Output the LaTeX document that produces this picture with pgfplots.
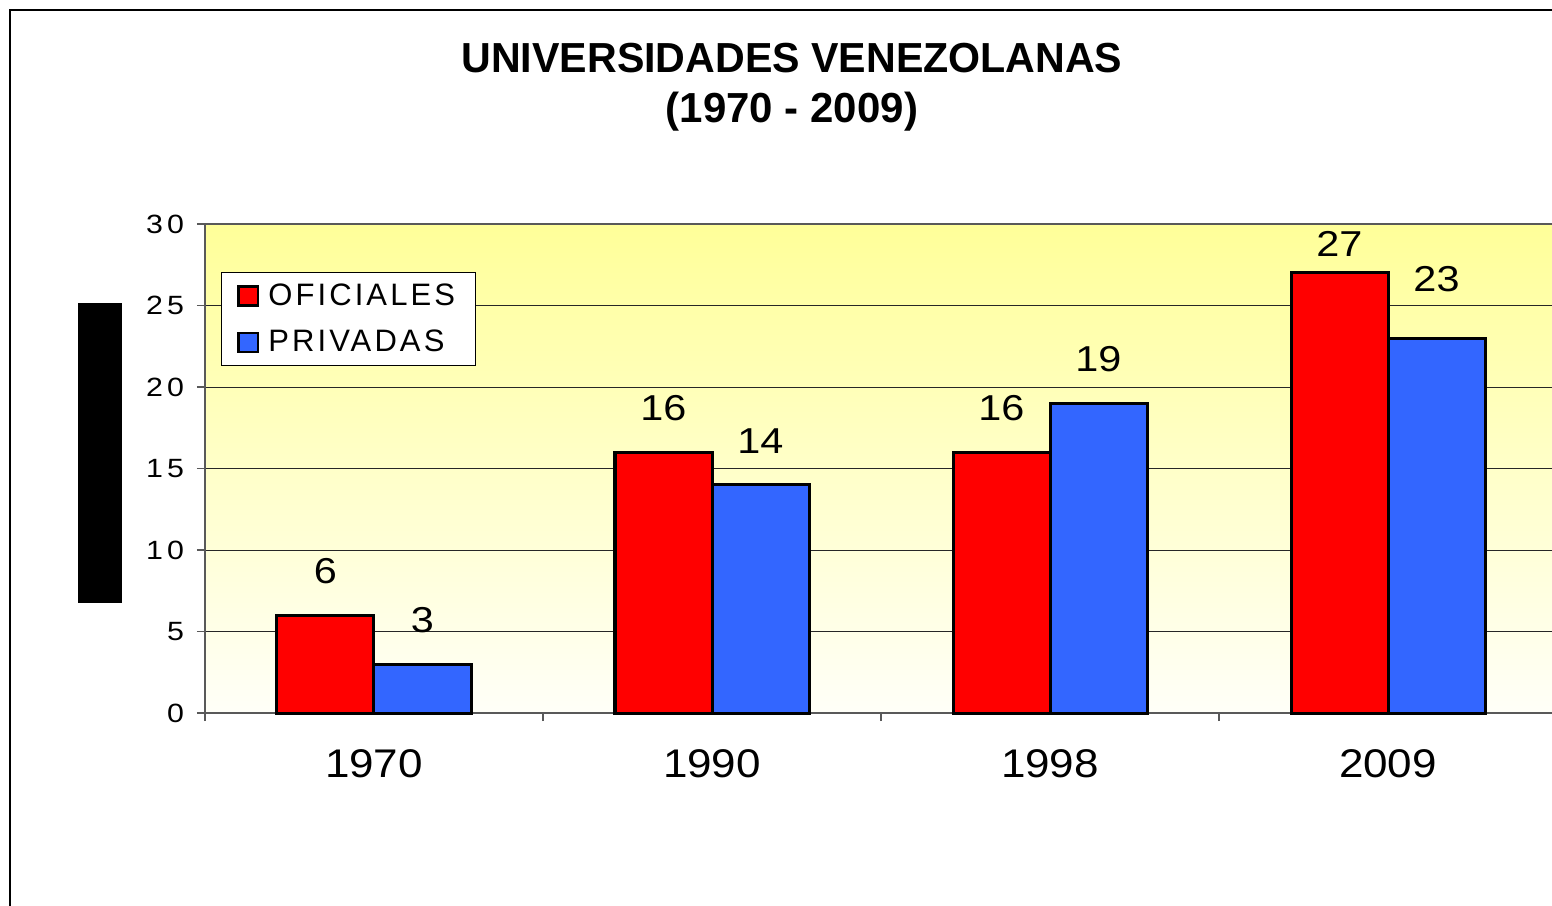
\documentclass[border=0pt]{standalone}
\usepackage{pgfplots}
\pgfplotsset{compat=1.18}
\usepackage{fontspec}
\setmainfont{Liberation Sans}
\newfontfamily\spaced[LetterSpace=10]{Liberation Sans}
\newfontfamily\yspaced[LetterSpace=15,FakeStretch=1.15]{Liberation Sans}
\newfontfamily\wide[FakeStretch=1.1]{Liberation Sans}
\newfontfamily\dwide[FakeStretch=1.15]{Liberation Sans}
\definecolor{ofi}{RGB}{255,0,0}
\definecolor{pri}{RGB}{51,102,255}
\definecolor{bgtop}{RGB}{255,255,153}
\definecolor{bgbot}{RGB}{255,255,248}
\begin{document}
\begin{tikzpicture}
\useasboundingbox (-102.5pt,-96pt) rectangle (673.5pt,356.5pt);
\begin{axis}[
  at={(0,0)}, anchor=south west,
  scale only axis, width=676pt, height=244.5pt,
  xmin=-0.5, xmax=3.5, ymin=0, ymax=30,
  ybar=0pt, bar width=48.5pt,
  axis background/.style={shade, top color=bgtop, bottom color=bgbot},
  axis line style={draw=gray!70!black, line width=1.2pt},
  ytick={0,5,...,30},
  ymajorgrids, grid style={black!85, line width=0.5pt},
  tick align=outside, major tick length=4pt,
  tick style={gray!70!black, line width=0.8pt},
  xtick pos=bottom, ytick pos=left,
  xtick={-0.5,0.5,1.5,2.5,3.5}, xticklabels={},
  extra x ticks={0,1,2,3},
  extra x tick labels={1970,1990,1998,2009},
  extra x tick style={major tick length=0pt},
  xticklabel style={font=\wide\fontsize{20pt}{20pt}\selectfont, yshift=-14.5pt},
  yticklabel style={font=\yspaced\fontsize{13.2pt}{13.2pt}\selectfont, xshift=-3pt},
  /pgf/number format/assume math mode=true,
  nodes near coords,
  every node near coord/.append style={font=\dwide\fontsize{18pt}{18pt}\selectfont, anchor=south, inner sep=0pt, yshift=15pt},
  legend style={at={(8pt,220.5pt)}, anchor=north west, draw=black, line width=0.5pt, fill=white,
    font=\spaced\fontsize{15.5pt}{15.5pt}\selectfont, inner xsep=8pt, inner ysep=3.5pt,
    row sep=7pt},
  legend cell align=left,
  legend image code/.code={\draw[#1, line width=1.3pt] (0pt,-4.8pt) rectangle (9.6pt,4.8pt); \path (12pt,0pt);},
  clip=false,
]
\addplot[fill=ofi, draw=black, line width=1.5pt, coordinate style/.condition={x==3}{yshift=-7.5pt}] coordinates {(0,6) (1,16) (2,16) (3,27)};
\addplot[fill=pri, draw=black, line width=1.5pt, coordinate style/.condition={x==3}{yshift=7.5pt}] coordinates {(0,3) (1,14) (2,19) (3,23)};
\legend{OFICIALES,PRIVADAS}
\end{axis}
\fill[black] (-63.5pt,55pt) rectangle (-41.5pt,205pt);
\draw[line width=0.8pt] (-97.5pt,-100pt) -- (-97.5pt,351.5pt) -- (680pt,351.5pt);
\node[font=\bfseries\fontsize{21pt}{25pt}\selectfont, align=center] at (293.5pt,313pt) {\scalebox{0.98}[1]{UNIVERSIDADES VENEZOLANAS}\\(1970 - 2009)};
\end{tikzpicture}
\end{document}
